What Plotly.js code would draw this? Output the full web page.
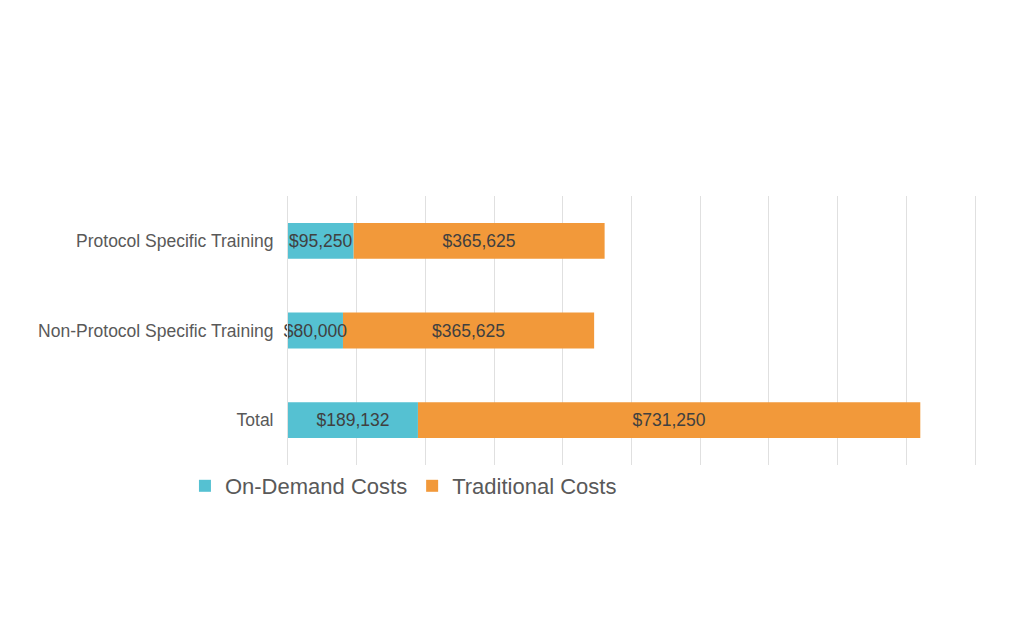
<!DOCTYPE html>
<html>
<head>
<meta charset="utf-8">
<script src="https://cdn.plot.ly/plotly-3.0.1.min.js"></script>
<style>
  html, body { margin: 0; padding: 0; background: #fff; }
  #myDiv { width: 1024px; height: 640px; }
</style>
</head>
<body>
<div id="myDiv"></div>
<script>
// categories, bottom to top
var categorias = ['Total', 'Non-Protocol Specific Training', 'Protocol Specific Training'];
var onDemand = [189132, 80000, 95250];
var tradicional = [731250, 365625, 365625];

var fonte = '"Liberation Sans", Arial, Helvetica, sans-serif';

// Traditional vai primeiro (base = on-demand), assim o texto do on-demand fica por cima
var traceTrad = {
  type: 'bar',
  orientation: 'h',
  name: 'Traditional Costs',
  y: categorias,
  x: tradicional,
  base: onDemand,
  marker: { color: '#F2993A' },
  texttemplate: '$%{value:,.0f}',
  textposition: 'inside',
  insidetextanchor: 'middle',
  textangle: 0,
  constraintext: 'none',
  cliponaxis: false,
  textfont: { family: fonte, size: 17.5, color: '#404040' },
  hoverinfo: 'skip'
};

var traceOnDemand = {
  type: 'bar',
  orientation: 'h',
  name: 'On-Demand Costs',
  y: categorias,
  x: onDemand,
  marker: { color: '#55C1D2' },
  texttemplate: '$%{value:,.0f}',
  textposition: 'inside',
  insidetextanchor: 'middle',
  textangle: 0,
  constraintext: 'none',
  cliponaxis: false,
  textfont: { family: fonte, size: 17.5, color: '#404040' },
  hoverinfo: 'skip'
};

var layout = {
  width: 1024,
  height: 640,
  barmode: 'overlay',
  bargap: 0.6,
  margin: { l: 288, r: 49, t: 196, b: 175 },
  paper_bgcolor: '#ffffff',
  plot_bgcolor: '#ffffff',
  font: { family: fonte, color: '#595959' },
  xaxis: {
    range: [0, 1000000],
    tick0: 0,
    dtick: 100000,
    showticklabels: false,
    showgrid: true,
    gridcolor: '#e0e0e0',
    gridwidth: 1,
    zeroline: false,
    showline: false,
    fixedrange: true
  },
  yaxis: {
    type: 'category',
    showgrid: false,
    zeroline: false,
    // linha do eixo y + espelho = linhas de grade em 0 e 1.000.000
    showline: true,
    mirror: true,
    linecolor: '#e0e0e0',
    linewidth: 1,
    ticks: 'outside',
    ticklen: 10,
    tickcolor: 'rgba(0,0,0,0)',
    tickfont: { family: fonte, size: 17.5, color: '#595959' },
    fixedrange: true
  },
  showlegend: true,
  legend: {
    orientation: 'h',
    x: -0.15,
    xanchor: 'left',
    y: 0.0,
    yanchor: 'top',
    font: { family: fonte, size: 22, color: '#595959' },
    traceorder: 'reversed'
  }
};

Plotly.newPlot('myDiv', [traceTrad, traceOnDemand], layout, { displayModeBar: false, staticPlot: true });
</script>
</body>
</html>
